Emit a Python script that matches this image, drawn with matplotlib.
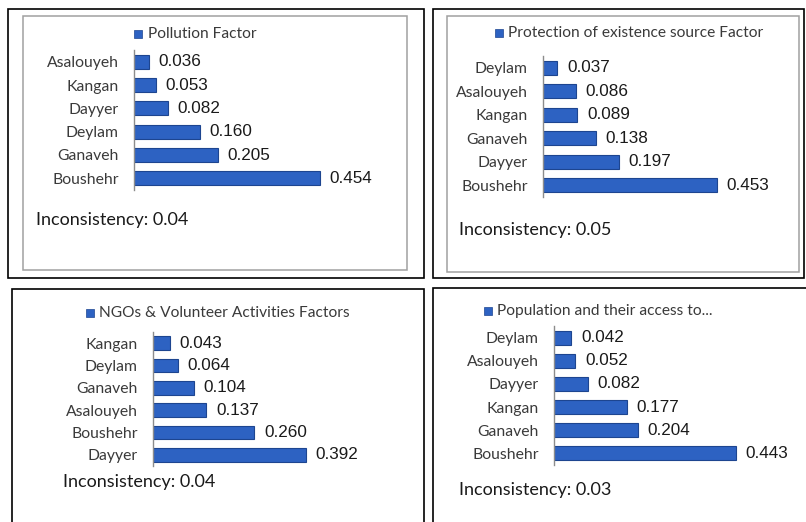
import matplotlib.pyplot as plt
from matplotlib.patches import Rectangle

# bildestørrelse i piksler (dpi 100)
W, H = 806, 522

# --- data ---
pollution_cities = ['Asalouyeh', 'Kangan', 'Dayyer', 'Deylam', 'Ganaveh', 'Boushehr']
pollution_values = [0.036, 0.053, 0.082, 0.160, 0.205, 0.454]
pollution_title = 'Pollution Factor'
pollution_incons = 'Inconsistency: 0.04'

protection_cities = ['Deylam', 'Asalouyeh', 'Kangan', 'Ganaveh', 'Dayyer', 'Boushehr']
protection_values = [0.037, 0.086, 0.089, 0.138, 0.197, 0.453]
protection_title = 'Protection of existence source Factor'
protection_incons = 'Inconsistency: 0.05'

ngo_cities = ['Kangan', 'Deylam', 'Ganaveh', 'Asalouyeh', 'Boushehr', 'Dayyer']
ngo_values = [0.043, 0.064, 0.104, 0.137, 0.260, 0.392]
ngo_title = 'NGOs & Volunteer Activities Factors'
ngo_incons = 'Inconsistency: 0.04'

population_cities = ['Deylam', 'Asalouyeh', 'Dayyer', 'Kangan', 'Ganaveh', 'Boushehr']
population_values = [0.042, 0.052, 0.082, 0.177, 0.204, 0.443]
population_title = 'Population and their access to...'
population_incons = 'Inconsistency: 0.03'

LABEL_FONT = ['Lato', 'DejaVu Sans']
VALUE_FONT = ['Liberation Sans', 'DejaVu Sans']
BAR_COLOR = '#2D62C2'
BAR_EDGE = '#1D4590'

fig = plt.figure(figsize=(W / 100, H / 100), dpi=100)
fig.patch.set_facecolor('white')


def rect(x0, y0, x1, y1, color, lw):
    # rektangel i pikselkoordinater (y fra toppen)
    r = Rectangle((x0 / W, 1 - y1 / H), (x1 - x0) / W, (y1 - y0) / H,
                  transform=fig.transFigure, fill=False, edgecolor=color,
                  linewidth=lw, clip_on=True)
    fig.add_artist(r)


def panel(cities, values, title, incons, ax_x, ax_top, ax_bot, scale,
          sq_x, txt_x, leg_y, inc_x, inc_y):
    xmax = 0.6
    left = ax_x / W
    bottom = 1 - ax_bot / H
    width = xmax * scale / W
    height = (ax_bot - ax_top) / H
    ax = fig.add_axes([left, bottom, width, height])
    ax.patch.set_alpha(0)
    pos = list(range(len(cities)))
    ax.barh(pos, values, height=0.6, color=BAR_COLOR, edgecolor=BAR_EDGE, linewidth=0.8)
    ax.set_xlim(0, xmax)
    ax.set_ylim(len(cities) - 0.5, -0.5)
    ax.set_yticks(pos)
    ax.set_yticklabels(cities, family=LABEL_FONT, fontsize=11.3, color='#3a3a3a')
    ax.tick_params(axis='y', length=0, pad=11)
    ax.set_xticks([])
    for s in ['top', 'right', 'bottom']:
        ax.spines[s].set_visible(False)
    ax.spines['left'].set_color('#8c8c8c')
    ax.spines['left'].set_linewidth(1.0)
    for p, v in zip(pos, values):
        ax.annotate(f'{v:.3f}', (v, p), xytext=(7, 0), textcoords='offset points',
                    va='center', ha='left', family=VALUE_FONT, fontsize=12.3,
                    color='#1a1a1a', annotation_clip=False)
    # forklaring
    fig.add_artist(Rectangle((sq_x / W, 1 - (leg_y + 4) / H), 8 / W, 8 / H,
                             transform=fig.transFigure, facecolor=BAR_COLOR,
                             edgecolor=BAR_EDGE, linewidth=0.5))
    fig.text(txt_x / W, 1 - leg_y / H, title, family=LABEL_FONT, fontsize=11.2,
             color='#3a3a3a', va='center', ha='left')
    fig.text(inc_x / W, 1 - inc_y / H, incons, family=LABEL_FONT, fontsize=13,
             color='#1a1a1a', va='center', ha='left')


# rammer
rect(8, 9, 424, 278, 'black', 1.2)
rect(23, 16, 407, 270, '#a0a0a0', 1.1)
rect(433, 9, 804, 278, 'black', 1.2)
rect(447, 16, 799, 272, '#a0a0a0', 1.1)
rect(12, 289, 424, 540, 'black', 1.2)
rect(433, 288, 815, 540, 'black', 1.2)

panel(pollution_cities, pollution_values, pollution_title, pollution_incons,
      134, 50, 190, 410, 134, 148, 34, 36, 220)
panel(protection_cities, protection_values, protection_title, protection_incons,
      543, 56, 197, 384, 495, 508, 33, 459, 230)
panel(ngo_cities, ngo_values, ngo_title, ngo_incons,
      153, 332, 466, 390, 86, 99, 313, 63, 482)
panel(population_cities, population_values, population_title, population_incons,
      554, 326, 465, 411, 484, 497, 311, 459, 490)

plt.savefig('out.png', dpi=100)
